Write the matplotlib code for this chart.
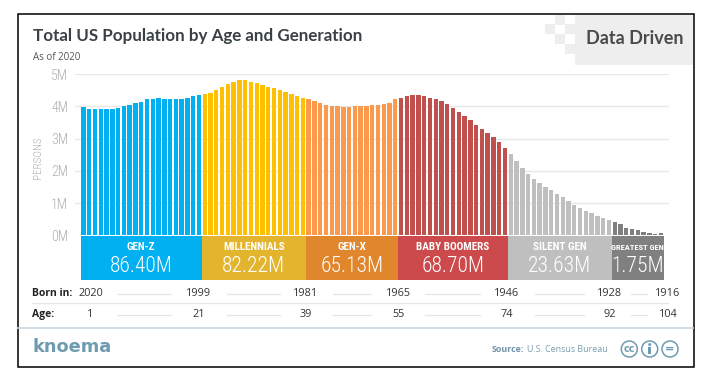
import matplotlib
matplotlib.use("Agg")
import matplotlib.pyplot as plt
from matplotlib.patches import Rectangle, Circle
from matplotlib.transforms import blended_transform_factory

W, H = 713, 385

gen_names = ["GEN-Z", "MILLENNIALS", "GEN-X", "BABY BOOMERS", "SILENT GEN", "GREATEST GEN"]
gen_totals = ["86.40M", "82.22M", "65.13M", "68.70M", "23.63M", "1.75M"]
bar_colors = ["#00B0F0", "#FFC000", "#FB9A4C", "#C0504D", "#BFBFBF", "#7F7F7F"]
band_colors = ["#00B0F0", "#E3B52F", "#E0872D", "#CC4A4C", "#BFBFBF", "#808080"]

gen_z = [3.99, 3.93, 3.92, 3.91, 3.91, 3.92, 3.95, 4.00, 4.05, 4.09, 4.14,
         4.21, 4.24, 4.25, 4.24, 4.23, 4.23, 4.23, 4.25, 4.31, 4.35]
millennials = [4.39, 4.42, 4.51, 4.60, 4.69, 4.76, 4.80, 4.81, 4.76, 4.72,
               4.67, 4.61, 4.57, 4.50, 4.45, 4.38, 4.33, 4.27]
gen_x = [4.21, 4.15, 4.09, 4.04, 4.02, 4.01, 3.99, 3.99, 4.00, 4.01, 4.02,
         4.03, 4.05, 4.08, 4.11, 4.22]
boomers = [4.26, 4.31, 4.34, 4.34, 4.31, 4.26, 4.23, 4.16, 4.08, 3.96, 3.83,
           3.71, 3.56, 3.43, 3.30, 3.18, 3.05, 2.90, 2.71]
silent = [2.51, 2.29, 2.09, 1.90, 1.76, 1.63, 1.51, 1.41, 1.27, 1.18, 1.06,
          0.95, 0.86, 0.76, 0.68, 0.60, 0.53, 0.48]
greatest = [0.41, 0.34, 0.23, 0.18, 0.16, 0.11, 0.08, 0.04, 0.08]
groups = [gen_z, millennials, gen_x, boomers, silent, greatest]

y_ticks = [0, 1, 2, 3, 4, 5]
y_labels = ["0M", "1M", "2M", "3M", "4M", "5M"]
born_in = ["2020", "1999", "1981", "1965", "1946", "1928", "1916"]
ages = ["1", "21", "39", "55", "74", "92", "104"]
row_x = [90.5, 199, 306, 398, 507, 610, 668]
rule_spans = [(118, 171), (227, 280), (333, 371), (425, 480), (535, 584), (631, 647)]

NARROW = ["Roboto Condensed", "DejaVu Sans"]
HEAD = ["Lato", "DejaVu Sans"]
BODY = ["Open Sans", "DejaVu Sans"]

fig = plt.figure(figsize=(W / 100, H / 100), dpi=100, facecolor="white")

# page layer in pixel coordinates
pg = fig.add_axes([0, 0, 1, 1])
pg.set_xlim(0, W)
pg.set_ylim(H, 0)
pg.axis("off")
pg.add_patch(Rectangle((17.7, 13.7), 676, 353.3, fc="white", ec="black", lw=1.1, zorder=0))

pg.text(33, 36, "Total US Population by Age and Generation", family=HEAD, fontsize=12.25,
        fontweight="bold", color="#3A4145", va="center", ha="left")
pg.text(33, 57, "As of 2020", family=BODY, fontsize=7, color="#555555", va="center", ha="left")

# badge
pg.add_patch(Rectangle((574.7, 14.5), 118.3, 50.5, fc="#EEEEEE", ec="none"))
for sx, sy in [(554.5, 15), (544.5, 24), (564.5, 24), (554.5, 34), (564.5, 44)]:
    pg.add_patch(Rectangle((sx, sy), 10, 10, fc="#EEEEEE", ec="none"))
pg.text(635, 39, "Data Driven", family=HEAD, fontsize=13, fontweight="bold",
        color="#4A4A4A", va="center", ha="center")

pg.text(38, 158, "PERSONS", family=NARROW, fontsize=8, fontweight=300, color="#B0B0B0",
        rotation=90, va="center", ha="center")

# chart layer
left, right, top, bot = 75, 669, 74, 235.3
ax = fig.add_axes([left / W, 1 - bot / H, (right - left) / W, (bot - top) / H])
ax.patch.set_alpha(0)
ax.set_xlim(-1.47, 101.4)
ax.set_ylim(0, 5)
for s in ax.spines.values():
    s.set_visible(False)
ax.set_xticks([])
ax.set_yticks(y_ticks, y_labels, family=NARROW, fontsize=10, fontweight=300, color="#B0B0B0")
ax.tick_params(axis="y", length=0, pad=5)
ax.grid(axis="y", color="#E8E8E8", lw=1)
ax.set_axisbelow(True)

trans = blended_transform_factory(ax.transData, pg.transData)
i0 = 0
for vals, bc, band, name, total in zip(groups, bar_colors, band_colors, gen_names, gen_totals):
    xs = list(range(i0, i0 + len(vals)))
    ax.bar(xs, vals, width=0.76, color=bc, linewidth=0)
    x0, x1 = i0 - 0.5, i0 + len(vals) - 0.5
    ax.add_patch(Rectangle((x0 + 0.05, 236.2), x1 - x0 - 0.1, 44, transform=trans,
                           fc=band, ec="none", clip_on=False))
    mid = (x0 + x1) / 2
    fs = 6.1 if name == "GREATEST GEN" else 8
    ax.text(mid, 247.5, name, transform=trans, family=NARROW, fontsize=fs, fontweight=700,
            color="white", va="center", ha="center", clip_on=False)
    ax.text(mid, 266.5, total, transform=trans, family=NARROW, fontsize=15.5, fontweight=300,
            color="white", va="center", ha="center", clip_on=False)
    i0 += len(vals)

# rows under chart
for y, label, vals in [(293.5, "Born in:", born_in), (314.5, "Age:", ages)]:
    pg.text(32, y, label, family=BODY, fontsize=7.5, fontweight="bold", color="#222222",
            va="center", ha="left")
    for x, v in zip(row_x, vals):
        pg.text(x, y, v, family=BODY, fontsize=7.8, color="#333333", va="center", ha="center")
    for a, b in rule_spans:
        pg.plot([a, b], [y, y], color="#E4E6E8", lw=0.9)
pg.plot([32, 668], [303.3, 303.3], color="#E6E6E6", lw=0.9)
pg.plot([18, 693], [327.7, 327.7], color="#C8D6DF", lw=1.2)

# footer
pg.text(32, 347, "knoema", family=["DejaVu Sans"], fontsize=12.8, fontweight="bold",
        color="#6F9BB0", va="center", ha="left")
pg.text(492, 349, "Source:", family=BODY, fontsize=6.4, fontweight="bold", color="#6F93A8",
        va="center", ha="left")
pg.text(527, 349, "U.S. Census Bureau", family=BODY, fontsize=6.4, color="#7C9CB0",
        va="center", ha="left")
for cx in (629.3, 649.7, 670):
    pg.add_patch(Circle((cx, 349), 8, fc="white", ec="#6F9BB0", lw=1.1))
pg.text(629.3, 348.5, "cc", family=["DejaVu Sans"], fontsize=7, fontweight="bold", color="#6F9BB0",
        va="center", ha="center")
pg.add_patch(Circle((649.7, 344.5), 1.5, fc="#6F9BB0", ec="none"))
pg.add_patch(Rectangle((648.2, 347), 3, 7, fc="#6F9BB0", ec="none"))
pg.text(670, 348.5, "=", family=["DejaVu Sans"], fontsize=8, fontweight="bold", color="#6F9BB0",
        va="center", ha="center")

fig.savefig("out.png", dpi=100, facecolor="white")
